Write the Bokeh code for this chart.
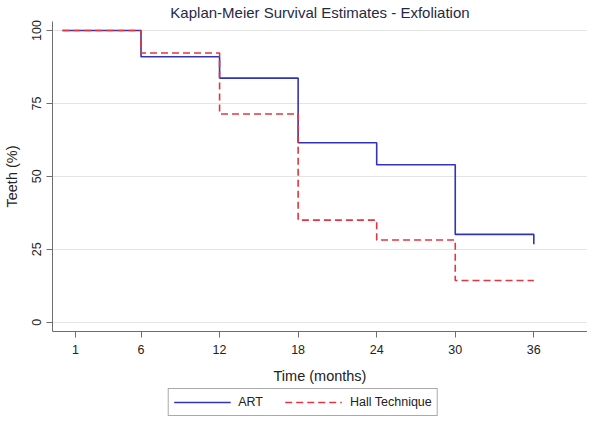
from bokeh.plotting import figure
from bokeh.models import Range1d, FixedTicker, Legend, LegendItem
from bokeh.layouts import column
from bokeh.embed import file_html
from bokeh.resources import INLINE

months = [0, 6, 12, 18, 24, 30, 36]
art = [100, 91.0, 83.7, 61.5, 54.0, 30.1, 26.7]
hall = [100, 92.3, 71.4, 35.0, 28.2, 14.3, 14.3]
x_ticks = [1, 6, 12, 18, 24, 30, 36]
y_ticks = [0, 25, 50, 75, 100]
series_names = ["ART", "Hall Technique"]

FONT = "Liberation Sans"
BLUE = "#3333b8"
RED = "#e5343f"

p = figure(frame_width=535, frame_height=310, output_backend="svg", toolbar_location=None,
           x_range=Range1d(-0.76, 40.1), y_range=Range1d(-3.2, 103.1),
           min_border_left=46, min_border_right=0, min_border_top=0, min_border_bottom=56)

p.title.text = "Kaplan-Meier Survival Estimates - Exfoliation"
p.title.align = "center"
p.title.text_font = FONT
p.title.text_font_size = "15px"
p.title.text_font_style = "normal"
p.title.text_color = "#1f2a44"
p.title.standoff = 2

p.background_fill_color = "white"
p.border_fill_color = "white"
p.outline_line_color = None

p.xgrid.grid_line_color = None
p.ygrid.grid_line_color = "#e4e4e4"
p.ygrid.grid_line_width = 1

p.xaxis.ticker = FixedTicker(ticks=x_ticks)
p.yaxis.ticker = FixedTicker(ticks=y_ticks)
p.yaxis.major_label_orientation = "vertical"

for ax in (p.xaxis, p.yaxis):
    ax.axis_line_color = "#6e6e6e"
    ax.major_tick_line_color = "#6e6e6e"
    ax.minor_tick_line_color = None
    ax.major_tick_in = 0
    ax.major_tick_out = 6
    ax.major_label_text_font = FONT
    ax.major_label_text_font_size = "12.5px"
    ax.major_label_text_color = "#222222"
    ax.axis_label_text_font = FONT
    ax.axis_label_text_font_size = "14.5px"
    ax.axis_label_text_font_style = "normal"
    ax.axis_label_text_color = "#222222"

p.xaxis.major_label_standoff = 7
p.yaxis.major_label_standoff = 5
p.xaxis.axis_label = "Time (months)"
p.yaxis.axis_label = "Teeth (%)"
p.xaxis.axis_label_standoff = 11
p.yaxis.axis_label_standoff = 10

p.step(months, art, mode="after", line_color=BLUE, line_width=1.6)
p.step(months, hall, mode="after", line_color=RED, line_width=1.6, line_dash="7 4")

# legend strip below the chart (same series, drawn outside this strip's visible range)
p2 = figure(width=553, height=30, output_backend="svg", toolbar_location=None,
            x_range=Range1d(100, 101), y_range=Range1d(-20, -19),
            x_axis_location=None, y_axis_location=None,
            min_border_left=0, min_border_right=0, min_border_top=0, min_border_bottom=0)
p2.grid.visible = False
p2.outline_line_color = None
p2.background_fill_color = "white"
p2.border_fill_color = "white"
l1 = p2.step(months, art, mode="after", line_color=BLUE, line_width=1.6)
l2 = p2.step(months, hall, mode="after", line_color=RED, line_width=1.6, line_dash="7 4")

legend = Legend(items=[LegendItem(label=series_names[0], renderers=[l1]),
                       LegendItem(label=series_names[1], renderers=[l2])],
                orientation="horizontal", location="center",
                glyph_width=57, glyph_height=16, label_standoff=8, spacing=22,
                padding=5, margin=0,
                label_text_font=FONT, label_text_font_size="12.5px",
                label_text_color="#222222",
                border_line_color="#555555", border_line_width=1,
                background_fill_color="white", background_fill_alpha=1)
p2.add_layout(legend, "center")

layout = column(p, p2, spacing=0)
open("out.html", "w").write(file_html(layout, INLINE))
